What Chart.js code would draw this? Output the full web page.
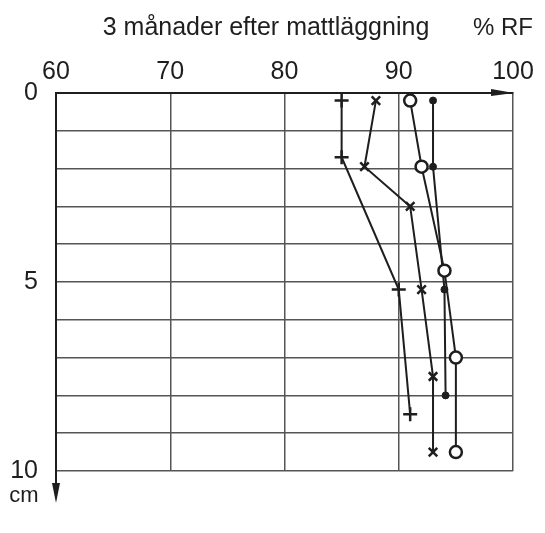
<!DOCTYPE html>
<html>
<head>
<meta charset="utf-8">
<script src="https://cdn.jsdelivr.net/npm/chart.js@4.4.1/dist/chart.umd.min.js"></script>
<style>
  html, body { margin: 0; padding: 0; background: #fff; }
  #wrap { width: 545px; height: 533px; }
</style>
</head>
<body>
<div id="wrap"><canvas id="c" width="545" height="533"></canvas></div>
<script>
// RF (%) mot djup (cm), 3 månader efter mattläggning
const xTicks = [60, 70, 80, 90, 100]
const yLabels = [0, 5, 10]

const plusRF = [85, 85, 90, 91]
const plusDepth = [0.2, 1.7, 5.2, 8.5]

const crossRF = [88, 87, 91, 92, 93, 93]
const crossDepth = [0.2, 1.95, 3.0, 5.2, 7.5, 9.5]

const ringRF = [91, 92, 94, 95, 95]
const ringDepth = [0.2, 1.95, 4.7, 7.0, 9.5]

const dotRF = [93, 93, 94, 94.1]
const dotDepth = [0.2, 1.95, 5.2, 8.0]

const ink = "#1e1e1e"
const font = "'Liberation Sans', Arial, sans-serif"

const pts = (xs, ys) => xs.map((x, i) => ({ x, y: ys[i] }))

const line = (data, extra) => Object.assign({
  data,
  showLine: true,
  borderColor: ink,
  borderWidth: 2,
  pointBorderColor: ink,
  pointBackgroundColor: ink,
  pointBorderWidth: 2.5
}, extra)

// pilar på axlarna + rubriker
const decor = {
  id: "decor",
  afterDraw(chart) {
    const { ctx, chartArea: a } = chart
    ctx.save()
    ctx.fillStyle = ink
    ctx.strokeStyle = ink
    ctx.lineWidth = 2

    // x-axel pil åt höger
    ctx.beginPath()
    ctx.moveTo(a.right + 1, a.top)
    ctx.lineTo(a.right - 22, a.top - 4)
    ctx.lineTo(a.right - 22, a.top + 3)
    ctx.closePath()
    ctx.fill()

    // y-axel förlängd nedåt med pil
    ctx.beginPath()
    ctx.moveTo(a.left, a.bottom)
    ctx.lineTo(a.left, a.bottom + 20)
    ctx.stroke()
    ctx.beginPath()
    ctx.moveTo(a.left, a.bottom + 32)
    ctx.lineTo(a.left - 4, a.bottom + 12)
    ctx.lineTo(a.left + 4, a.bottom + 12)
    ctx.closePath()
    ctx.fill()

    ctx.textBaseline = "middle"
    ctx.textAlign = "center"
    ctx.font = "25px " + font
    ctx.fillText("3 månader efter mattläggning", 266, 28)
    ctx.font = "24px " + font
    ctx.fillText("% RF", 503, 28)
    ctx.font = "22px " + font
    ctx.fillText("cm", 24, 496)
    ctx.restore()
  }
}

new Chart(document.getElementById("c"), {
  type: "scatter",
  data: {
    datasets: [
      line(pts(plusRF, plusDepth), { pointStyle: "cross", pointRadius: 7 }),
      line(pts(crossRF, crossDepth), { pointStyle: "crossRot", pointRadius: 6 }),
      line(pts(ringRF, ringDepth), { pointStyle: "circle", pointRadius: 6, pointBackgroundColor: "#fff" }),
      line(pts(dotRF, dotDepth), { pointStyle: "circle", pointRadius: 3.5, pointBorderWidth: 1 })
    ]
  },
  options: {
    responsive: false,
    animation: false,
    layout: { padding: { left: 0, right: 32, top: 50, bottom: 62 } },
    plugins: { legend: { display: false }, tooltip: { enabled: false } },
    scales: {
      x: {
        type: "linear",
        position: "top",
        min: 60,
        max: 100,
        afterBuildTicks: (s) => { s.ticks = xTicks.map(v => ({ value: v })) },
        afterFit: (s) => { s.height = 43 },
        ticks: { color: ink, padding: 6, font: { family: font, size: 25 } },
        grid: { color: "#555", lineWidth: 1.5, drawTicks: false },
        border: { color: ink, width: 2 }
      },
      y: {
        reverse: true,
        min: 0,
        max: 10,
        afterFit: (s) => { s.width = 56 },
        ticks: {
          stepSize: 1,
          color: ink,
          padding: 18,
          font: { family: font, size: 25 },
          callback: (v) => yLabels.includes(v) ? String(v) : ""
        },
        grid: { color: "#555", lineWidth: 1.5, drawTicks: false },
        border: { color: ink, width: 2 }
      }
    }
  },
  plugins: [decor]
})
</script>
</body>
</html>
